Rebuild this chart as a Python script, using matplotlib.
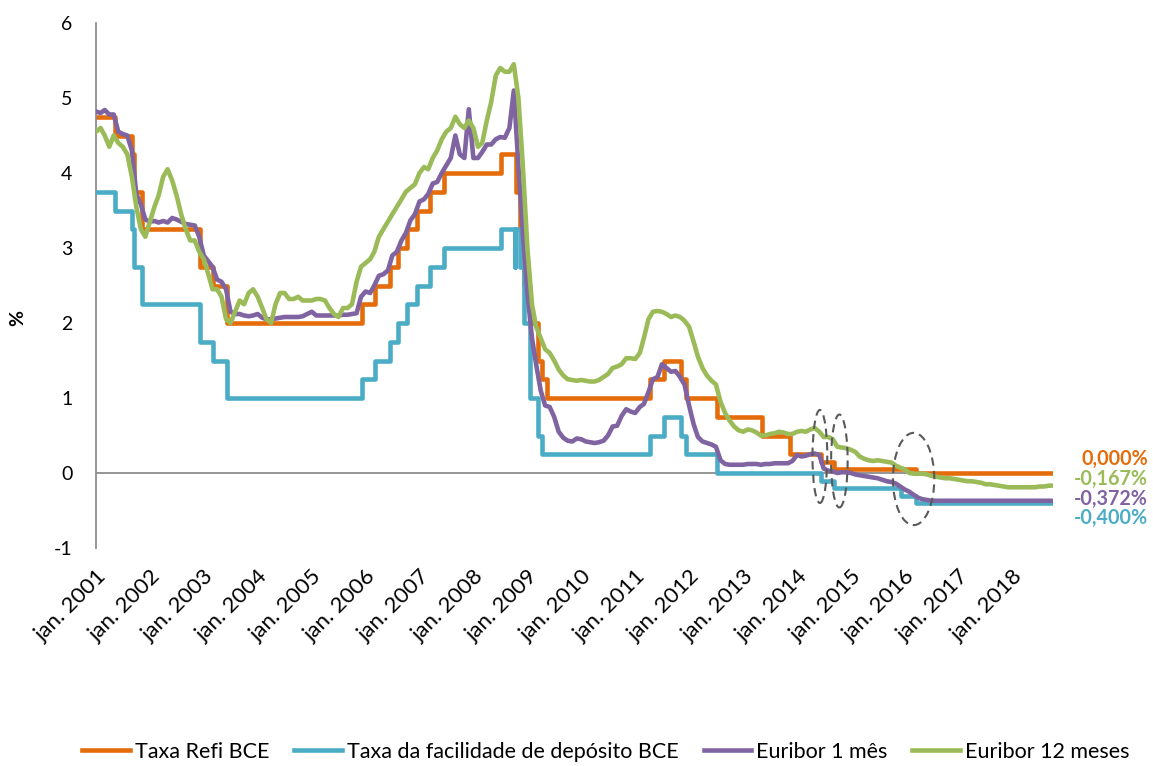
import pandas as pd
import matplotlib
matplotlib.use("Agg")
from matplotlib import pyplot as plt
from matplotlib.patches import Ellipse
import matplotlib.dates as mdates

plt.rcParams['font.family'] = ['Lato', 'DejaVu Sans']

# ---------------- data ----------------
# ECB key rates (date of change, new level in %)
refi_dates = ["2001-01-01", "2001-05-11", "2001-08-31", "2001-09-18", "2001-11-09", "2002-12-06",
              "2003-03-07", "2003-06-06", "2005-12-06", "2006-03-08", "2006-06-15", "2006-08-09",
              "2006-10-11", "2006-12-13", "2007-03-14", "2007-06-13", "2008-07-09", "2008-10-15",
              "2008-11-12", "2008-12-10", "2009-01-21", "2009-03-11", "2009-04-08", "2009-05-13",
              "2011-04-13", "2011-07-13", "2011-11-09", "2011-12-14", "2012-07-11", "2013-05-08",
              "2013-11-13", "2014-06-11", "2014-09-10", "2016-03-16", "2018-10-01"]
refi_values = [4.75, 4.50, 4.25, 3.75, 3.25, 2.75, 2.50, 2.00, 2.25, 2.50, 2.75, 3.00, 3.25, 3.50,
               3.75, 4.00, 4.25, 3.75, 3.25, 2.50, 2.00, 1.50, 1.25, 1.00, 1.25, 1.50, 1.25, 1.00,
               0.75, 0.50, 0.25, 0.15, 0.05, 0.00, 0.00]

dep_dates = ["2001-01-01", "2001-05-11", "2001-08-31", "2001-09-18", "2001-11-09", "2002-12-06",
             "2003-03-07", "2003-06-06", "2005-12-06", "2006-03-08", "2006-06-15", "2006-08-09",
             "2006-10-11", "2006-12-13", "2007-03-14", "2007-06-13", "2008-07-09", "2008-10-08",
             "2008-10-09", "2008-11-12", "2008-12-10", "2009-01-21", "2009-03-11", "2009-04-08",
             "2011-04-13", "2011-07-13", "2011-11-09", "2011-12-14", "2012-07-11", "2014-06-11",
             "2014-09-10", "2015-12-09", "2016-03-16", "2018-10-01"]
dep_values = [3.75, 3.50, 3.25, 2.75, 2.25, 1.75, 1.50, 1.00, 1.25, 1.50, 1.75, 2.00, 2.25, 2.50,
              2.75, 3.00, 3.25, 2.75, 3.25, 2.75, 2.00, 1.00, 0.50, 0.25, 0.50, 0.75, 0.50, 0.25,
              0.00, -0.10, -0.20, -0.30, -0.40, -0.40]

# Euribor, one value per month (jan. 2001 .. out. 2018)
euribor_months = pd.date_range("2001-01-01", "2018-10-01", freq="MS")

euribor_1m = [
    4.82, 4.80, 4.84, 4.78, 4.78, 4.55, 4.52, 4.50, 4.30, 3.72, 3.58, 3.38,   # 2001
    3.35, 3.36, 3.34, 3.36, 3.34, 3.40, 3.38, 3.35, 3.32, 3.31, 3.30, 3.15,   # 2002
    2.90, 2.82, 2.75, 2.58, 2.55, 2.45, 2.15, 2.12, 2.12, 2.10, 2.09, 2.10,   # 2003
    2.12, 2.07, 2.05, 2.05, 2.06, 2.07, 2.08, 2.08, 2.08, 2.08, 2.09, 2.12,   # 2004
    2.15, 2.10, 2.10, 2.10, 2.10, 2.10, 2.10, 2.11, 2.11, 2.12, 2.13, 2.35,   # 2005
    2.42, 2.40, 2.50, 2.63, 2.65, 2.70, 2.90, 2.95, 3.10, 3.20, 3.37, 3.45,   # 2006
    3.62, 3.65, 3.72, 3.86, 3.88, 4.00, 4.10, 4.20, 4.50, 4.25, 4.20, 4.85,   # 2007
    4.20, 4.20, 4.28, 4.38, 4.38, 4.45, 4.48, 4.47, 4.60, 5.10, 4.10, 3.20,   # 2008
    2.40, 1.80, 1.45, 1.10, 0.90, 0.88, 0.75, 0.55, 0.47, 0.43, 0.42, 0.46,   # 2009
    0.45, 0.42, 0.41, 0.40, 0.41, 0.43, 0.50, 0.62, 0.63, 0.76, 0.85, 0.82,   # 2010
    0.80, 0.88, 0.92, 1.08, 1.25, 1.28, 1.45, 1.40, 1.35, 1.36, 1.28, 1.18,   # 2011
    0.90, 0.65, 0.48, 0.42, 0.40, 0.38, 0.35, 0.17, 0.12, 0.11, 0.11, 0.11,   # 2012
    0.11, 0.12, 0.12, 0.12, 0.11, 0.12, 0.12, 0.13, 0.13, 0.13, 0.13, 0.16,   # 2013
    0.24, 0.22, 0.23, 0.25, 0.26, 0.24, 0.06, 0.03, 0.02, 0.00, 0.01, 0.01,   # 2014
    0.00, -0.02, -0.03, -0.04, -0.05, -0.06, -0.07, -0.09, -0.11, -0.12, -0.14, -0.18,  # 2015
    -0.22, -0.25, -0.29, -0.33, -0.35, -0.36, -0.37, -0.37, -0.37, -0.37, -0.37, -0.37,  # 2016
    -0.37, -0.37, -0.37, -0.37, -0.37, -0.37, -0.37, -0.37, -0.37, -0.37, -0.37, -0.37,  # 2017
    -0.37, -0.37, -0.37, -0.37, -0.37, -0.37, -0.37, -0.37, -0.37, -0.372,              # 2018
]

euribor_12m = [
    4.55, 4.60, 4.50, 4.35, 4.50, 4.40, 4.35, 4.25, 3.95, 3.55, 3.25, 3.15,   # 2001
    3.35, 3.55, 3.70, 3.95, 4.05, 3.90, 3.70, 3.45, 3.25, 3.10, 3.10, 2.95,   # 2002
    2.85, 2.65, 2.45, 2.45, 2.35, 2.05, 2.00, 2.15, 2.30, 2.25, 2.40, 2.45,   # 2003
    2.35, 2.20, 2.05, 2.00, 2.25, 2.40, 2.40, 2.32, 2.32, 2.35, 2.30, 2.30,   # 2004
    2.30, 2.32, 2.32, 2.30, 2.20, 2.12, 2.08, 2.20, 2.20, 2.25, 2.55, 2.75,   # 2005
    2.80, 2.85, 2.95, 3.15, 3.25, 3.35, 3.45, 3.55, 3.65, 3.75, 3.80, 3.85,   # 2006
    4.00, 4.08, 4.05, 4.20, 4.30, 4.45, 4.55, 4.60, 4.75, 4.65, 4.60, 4.70,   # 2007
    4.60, 4.35, 4.40, 4.70, 4.95, 5.30, 5.40, 5.35, 5.35, 5.45, 5.00, 4.10,   # 2008
    3.00, 2.25, 1.95, 1.80, 1.65, 1.60, 1.50, 1.38, 1.30, 1.25, 1.24, 1.23,   # 2009
    1.24, 1.23, 1.22, 1.22, 1.24, 1.28, 1.32, 1.40, 1.42, 1.45, 1.53, 1.53,   # 2010
    1.52, 1.60, 1.80, 2.05, 2.15, 2.16, 2.15, 2.12, 2.08, 2.10, 2.08, 2.03,   # 2011
    1.95, 1.75, 1.55, 1.40, 1.30, 1.23, 1.18, 0.95, 0.80, 0.70, 0.62, 0.57,   # 2012
    0.55, 0.58, 0.57, 0.54, 0.50, 0.50, 0.52, 0.53, 0.55, 0.54, 0.52, 0.52,   # 2013
    0.55, 0.56, 0.55, 0.58, 0.60, 0.55, 0.48, 0.48, 0.45, 0.35, 0.34, 0.33,   # 2014
    0.31, 0.28, 0.22, 0.19, 0.17, 0.16, 0.17, 0.16, 0.15, 0.14, 0.10, 0.07,   # 2015
    0.05, 0.00, -0.01, -0.01, -0.01, -0.02, -0.04, -0.05, -0.06, -0.07, -0.07, -0.08,  # 2016
    -0.09, -0.10, -0.11, -0.11, -0.12, -0.13, -0.15, -0.15, -0.16, -0.17, -0.18, -0.19,  # 2017
    -0.19, -0.19, -0.19, -0.19, -0.19, -0.19, -0.18, -0.18, -0.17, -0.167,              # 2018
]

series_names = ["Taxa Refi BCE", "Taxa da facilidade de depósito BCE", "Euribor 1 mês", "Euribor 12 meses"]
last_labels = ["0,000%", "-0,167%", "-0,372%", "-0,400%"]

ORANGE = "#E46C0A"
BLUE = "#4BACC6"
PURPLE = "#8064A2"
GREEN = "#9BBB59"
AXIS_GREY = "#8C8C8C"

# ---------------- plot ----------------
fig = plt.figure(figsize=(11.53, 7.66), dpi=100)
ax = fig.add_axes([96 / 1153, 1 - 548 / 766, (1053 - 96) / 1153, 525 / 766])

lw = 3.3
ax.axhline(0, color=AXIS_GREY, lw=1.3, zorder=1)
ax.plot(pd.to_datetime(refi_dates), refi_values, drawstyle="steps-post", color=ORANGE, lw=lw,
        label=series_names[0], zorder=2)
ax.plot(pd.to_datetime(dep_dates), dep_values, drawstyle="steps-post", color=BLUE, lw=lw,
        label=series_names[1], zorder=3)
ax.plot(euribor_months, euribor_1m, color=PURPLE, lw=lw, label=series_names[2], zorder=4)
ax.plot(euribor_months, euribor_12m, color=GREEN, lw=lw, label=series_names[3], zorder=5)

# dashed circles around the 2014 cuts and the 2016 cut
for centre, y, width_days, height in [("2014-06-05", 0.22, 100, 1.24),
                                      ("2014-10-15", 0.16, 112, 1.24),
                                      ("2016-03-01", -0.08, 280, 1.23)]:
    ax.add_patch(Ellipse((mdates.date2num(pd.Timestamp(centre)), y), width_days, height,
                         fill=False, ls=(0, (4, 2.5)), lw=1.5, ec="#595959", zorder=6))

ax.set_xlim(pd.Timestamp("2001-01-01"), pd.Timestamp("2018-10-01"))
ax.set_ylim(-1, 6)
ax.set_yticks(range(-1, 7))
ax.set_yticklabels([str(v) for v in range(-1, 7)], fontsize=14)

years = list(range(2001, 2019))
ax.set_xticks([pd.Timestamp(f"{y}-01-01") for y in years])
ax.set_xticklabels([f"jan. {y}" for y in years], rotation=45, ha="right",
                   rotation_mode="anchor", fontsize=16)
ax.tick_params(axis="x", length=0, pad=13)
ax.tick_params(axis="y", length=0, pad=17)

for side in ["top", "right", "bottom"]:
    ax.spines[side].set_visible(False)
ax.spines["left"].set_color(AXIS_GREY)
ax.spines["left"].set_linewidth(1.3)

fig.text(18 / 1153, 1 - 318 / 766, "%", rotation=90, fontsize=14, fontweight="bold",
         ha="center", va="center")

# end-of-period values
for label, colour, ypix in zip(last_labels, [ORANGE, GREEN, PURPLE, BLUE], [459, 479, 499, 518]):
    fig.text(1148 / 1153, 1 - ypix / 766, label, color=colour, fontsize=14.2, fontweight="bold",
             ha="right", va="center")

fig.legend(loc="center", bbox_to_anchor=(606 / 1153, 1 - 752 / 766), ncol=4, frameon=False,
           fontsize=15.5, handlelength=2.2, handletextpad=0.25, columnspacing=1.15)

fig.savefig("out.png", dpi=100)
